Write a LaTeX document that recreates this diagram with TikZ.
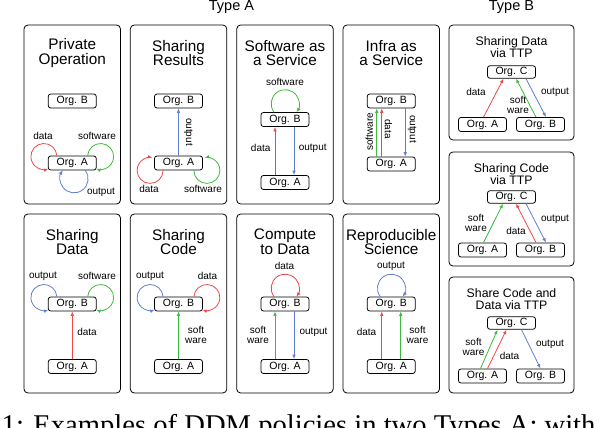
\documentclass[tikz,border=0pt]{standalone}
\usepackage{fontspec}
\setmainfont{Liberation Sans}
\newfontfamily\capfont{Liberation Serif}
\usepackage{tikz}
\usetikzlibrary{arrows.meta}

\definecolor{datred}{RGB}{240,72,72}
\definecolor{swgreen}{RGB}{62,186,62}
\definecolor{outblue}{RGB}{96,126,210}

\begin{document}
\begin{tikzpicture}[x=1pt,y=1pt,
    panel/.style={draw=black, line width=0.8pt, rounded corners=4pt},
    org/.style={draw=black, line width=0.8pt, rounded corners=2.5pt, minimum width=48pt, minimum height=14pt, inner sep=0pt, font=\fontsize{10.5}{12}\selectfont},
    orgc/.style={org, minimum height=12.5pt},
    ttl/.style={align=center, inner sep=0pt, font=\fontsize{15.3}{14.8}\selectfont},
    ttlb/.style={align=center, inner sep=0pt, font=\fontsize{12.3}{12.3}\selectfont},
    hdr/.style={anchor=base, inner sep=0pt, font=\fontsize{14.5}{15}\selectfont},
    lbl/.style={align=center, inner sep=0pt, font=\fontsize{10}{10}\selectfont},
    flow/.style={line width=0.8pt, -{Latex[length=4.5pt,width=3.6pt]}},
    dataflow/.style={flow, draw=datred},
    softflow/.style={flow, draw=swgreen},
    outflow/.style={flow, draw=outblue}]
    \useasboundingbox (0,0) rectangle (600,-428);

    % 标题
    \node[hdr] (typea) at (231.5,-10.5) {Type A};
    \node[hdr] (typeb) at (511.5,-10.5) {Type B};

    % 面板
    \draw[panel] (24,-25) rectangle (120.5,-204);
    \draw[panel] (130.3,-25) rectangle (226.8,-204);
    \draw[panel] (236.7,-25) rectangle (333.2,-204);
    \draw[panel] (343,-25) rectangle (439.5,-204);
    \draw[panel] (24,-214) rectangle (120.5,-393);
    \draw[panel] (130.3,-214) rectangle (226.8,-393);
    \draw[panel] (236.7,-214) rectangle (333.2,-393);
    \draw[panel] (343,-214) rectangle (439.5,-393);
    \draw[panel] (449,-25) rectangle (574,-140);
    \draw[panel] (449,-152) rectangle (574,-266);
    \draw[panel] (449,-277) rectangle (574,-393);

    % Private Operation
    \node[ttl] (tt1) at (72.25,-53) {Private\\Operation};
    \node[org] (ob1) at (72.25,-101) {Org. B};
    \node[org] (oa1) at (72.25,-163) {Org. A};
    \draw[dataflow] ([xshift=9pt]oa1.north west) arc[start angle=4, end angle=290, radius=13pt];
    \draw[softflow] ([xshift=-9pt]oa1.north east) arc[start angle=176, end angle=-110, radius=13pt];
    \draw[outflow] ([xshift=13pt]oa1.south) arc[start angle=37, end angle=-217, radius=14pt];
    \node[lbl] (l1d) at (43,-136) {data};
    \node[lbl] (l1s) at (97,-136) {software};
    \node[lbl] (l1o) at (101,-192) {output};

    % Sharing Results
    \node[ttl] (tt2) at (178.5,-53) {Sharing\\Results};
    \node[org] (ob2) at (178.5,-101) {Org. B};
    \node[org] (oa2) at (178.5,-163) {Org. A};
    \draw[dataflow] ([xshift=9pt]oa2.south west) arc[start angle=0, end angle=-280, radius=13pt];
    \draw[softflow] ([xshift=-9pt]oa2.south east) arc[start angle=180, end angle=460, radius=13pt];
    \draw[outflow] (oa2) -- (ob2);
    \node[lbl] (l2d) at (149,-189) {data};
    \node[lbl] (l2s) at (203,-189) {software};
    \node[lbl, rotate=-90] (l2o) at (188.3,-132) {output};

    % Software as a Service
    \node[ttl] (tt3) at (285,-53) {Software as\\a Service};
    \node[org] (ob3) at (285,-119.5) {Org. B};
    \node[org] (oa3) at (285,-182.5) {Org. A};
    \draw[softflow] ([xshift=-11pt]ob3.north) arc[start angle=217, end angle=-37, radius=14pt];
    \draw[dataflow] ([xshift=-10pt]oa3.north) -- ([xshift=-10pt]ob3.south);
    \draw[outflow] ([xshift=9pt]ob3.south) -- ([xshift=9pt]oa3.north);
    \node[lbl] (l3s) at (285,-82) {software};
    \node[lbl] (l3d) at (260.7,-148) {data};
    \node[lbl] (l3o) at (312.7,-148) {output};

    % Infra as a Service
    \node[ttl] (tt4) at (391.25,-53) {Infra as\\a Service};
    \node[org] (ob4) at (391.25,-101) {Org. B};
    \node[org] (oa4) at (391.25,-164) {Org. A};
    \draw[softflow] ([xshift=-14.5pt]oa4.north) -- ([xshift=-14.5pt]ob4.south);
    \draw[dataflow] ([xshift=-9.5pt]oa4.north) -- ([xshift=-9.5pt]ob4.south);
    \draw[outflow] ([xshift=14pt]ob4.south) -- ([xshift=14pt]oa4.north);
    \node[lbl, rotate=90] (l4s) at (369.3,-132) {software};
    \node[lbl, rotate=-90] (l4d) at (388.5,-129) {data};
    \node[lbl, rotate=-90] (l4o) at (412,-129) {output};

    % Sharing Data
    \node[ttl] (tt5) at (72.25,-242) {Sharing\\Data};
    \node[org] (ob5) at (72.25,-304) {Org. B};
    \node[org] (oa5) at (72.25,-366.5) {Org. A};
    \draw[outflow] ([xshift=9pt]ob5.north west) arc[start angle=4, end angle=290, radius=13pt];
    \draw[softflow] ([xshift=-9pt]ob5.north east) arc[start angle=176, end angle=-110, radius=13pt];
    \draw[dataflow] (oa5) -- (ob5);
    \node[lbl] (l5o) at (43,-276) {output};
    \node[lbl] (l5s) at (97,-276) {software};
    \node[lbl] (l5d) at (87,-332) {data};

    % Sharing Code
    \node[ttl] (tt6) at (178.5,-242) {Sharing\\Code};
    \node[org] (ob6) at (178.5,-304) {Org. B};
    \node[org] (oa6) at (178.5,-366.5) {Org. A};
    \draw[outflow] ([xshift=9pt]ob6.north west) arc[start angle=4, end angle=290, radius=13pt];
    \draw[dataflow] ([xshift=-9pt]ob6.north east) arc[start angle=176, end angle=-110, radius=13pt];
    \draw[softflow] (oa6) -- (ob6);
    \node[lbl] (l6o) at (150,-276) {output};
    \node[lbl] (l6d) at (207.5,-276) {data};
    \node[lbl] (l6s) at (196,-334.5) {soft\\ware};

    % Compute to Data
    \node[ttl] (tt7) at (285,-242) {Compute\\to Data};
    \node[org] (ob7) at (285,-304) {Org. B};
    \node[org] (oa7) at (285,-366.5) {Org. A};
    \draw[dataflow] ([xshift=-11pt]ob7.north) arc[start angle=217, end angle=-37, radius=14pt];
    \draw[softflow] ([xshift=-10pt]oa7.north) -- ([xshift=-10pt]ob7.south);
    \draw[outflow] ([xshift=9pt]ob7.south) -- ([xshift=9pt]oa7.north);
    \node[lbl] (l7d) at (284.5,-266) {data};
    \node[lbl] (l7s) at (258,-334.5) {soft\\ware};
    \node[lbl] (l7o) at (313.5,-332) {output};

    % Reproducible Science
    \node[ttl] (tt8) at (391.25,-242) {Reproducible\\Science};
    \node[org] (ob8) at (391.25,-304) {Org. B};
    \node[org] (oa8) at (391.25,-366.5) {Org. A};
    \draw[outflow] ([xshift=-11pt]ob8.north) arc[start angle=217, end angle=-37, radius=14pt];
    \draw[dataflow] ([xshift=-9.5pt]oa8.north) -- ([xshift=-9.5pt]ob8.south);
    \draw[softflow] ([xshift=9.5pt]oa8.north) -- ([xshift=9.5pt]ob8.south);
    \node[lbl] (l8o) at (391,-266) {output};
    \node[lbl] (l8d) at (366.5,-332) {data};
    \node[lbl] (l8s) at (417.5,-334.5) {soft\\ware};

    % Sharing Data via TTP
    \node[ttlb] (ttb1) at (511.5,-47) {Sharing Data\\via TTP};
    \node[orgc] (tc1) at (511.5,-72) {Org. C};
    \node[org] (ta1) at (482.5,-124.5) {Org. A};
    \node[org] (tb1) at (540.5,-124.5) {Org. B};
    \draw[dataflow] ([xshift=1pt]ta1.north) -- ([xshift=-8pt]tc1.south);
    \draw[softflow] ([xshift=-4.5pt]tb1.north) -- ([xshift=4.5pt]tc1.south);
    \draw[outflow] ([xshift=14.5pt]tc1.south) -- ([xshift=5.5pt]tb1.north);
    \node[lbl] (lb1d) at (476,-92) {data};
    \node[lbl] (lb1s) at (518,-105) {soft\\ware};
    \node[lbl] (lb1o) at (555,-92) {output};

    % Sharing Code via TTP
    \node[ttlb] (ttb2) at (511.5,-174) {Sharing Code\\via TTP};
    \node[orgc] (tc2) at (511.5,-197) {Org. C};
    \node[org] (ta2) at (482.5,-250) {Org. A};
    \node[org] (tb2) at (540.5,-250) {Org. B};
    \draw[softflow] ([xshift=1pt]ta2.north) -- ([xshift=-8.5pt]tc2.south);
    \draw[dataflow] ([xshift=-4.5pt]tb2.north) -- ([xshift=4.5pt]tc2.south);
    \draw[outflow] ([xshift=14.5pt]tc2.south) -- ([xshift=5.5pt]tb2.north);
    \node[lbl] (lb2s) at (476,-223) {soft\\ware};
    \node[lbl] (lb2d) at (516,-231) {data};
    \node[lbl] (lb2o) at (555,-219) {output};

    % Share Code and Data via TTP
    \node[ttlb] (ttb3) at (511.5,-299) {Share Code and\\Data via TTP};
    \node[orgc] (tc3) at (511.5,-323) {Org. C};
    \node[org] (ta3) at (482.5,-376) {Org. A};
    \node[org] (tb3) at (540.5,-376) {Org. B};
    \draw[softflow] ([xshift=-2pt]ta3.north) -- ([xshift=-14pt]tc3.south);
    \draw[dataflow] ([xshift=5pt]ta3.north) -- ([xshift=-5pt]tc3.south);
    \draw[outflow] ([xshift=10pt]tc3.south) -- (tb3.north);
    \node[lbl] (lb3s) at (473.5,-347) {soft\\ware};
    \node[lbl] (lb3d) at (509.5,-356) {data};
    \node[lbl] (lb3o) at (550,-344) {output};

    % 图注 (被裁掉一半)
    \node[anchor=base west, inner sep=0pt, font=\capfont\fontsize{28.6}{30}\selectfont] (cap) at (1.5,-434) {1: Examples of DDM policies in two Types A; with};
\end{tikzpicture}
\end{document}
